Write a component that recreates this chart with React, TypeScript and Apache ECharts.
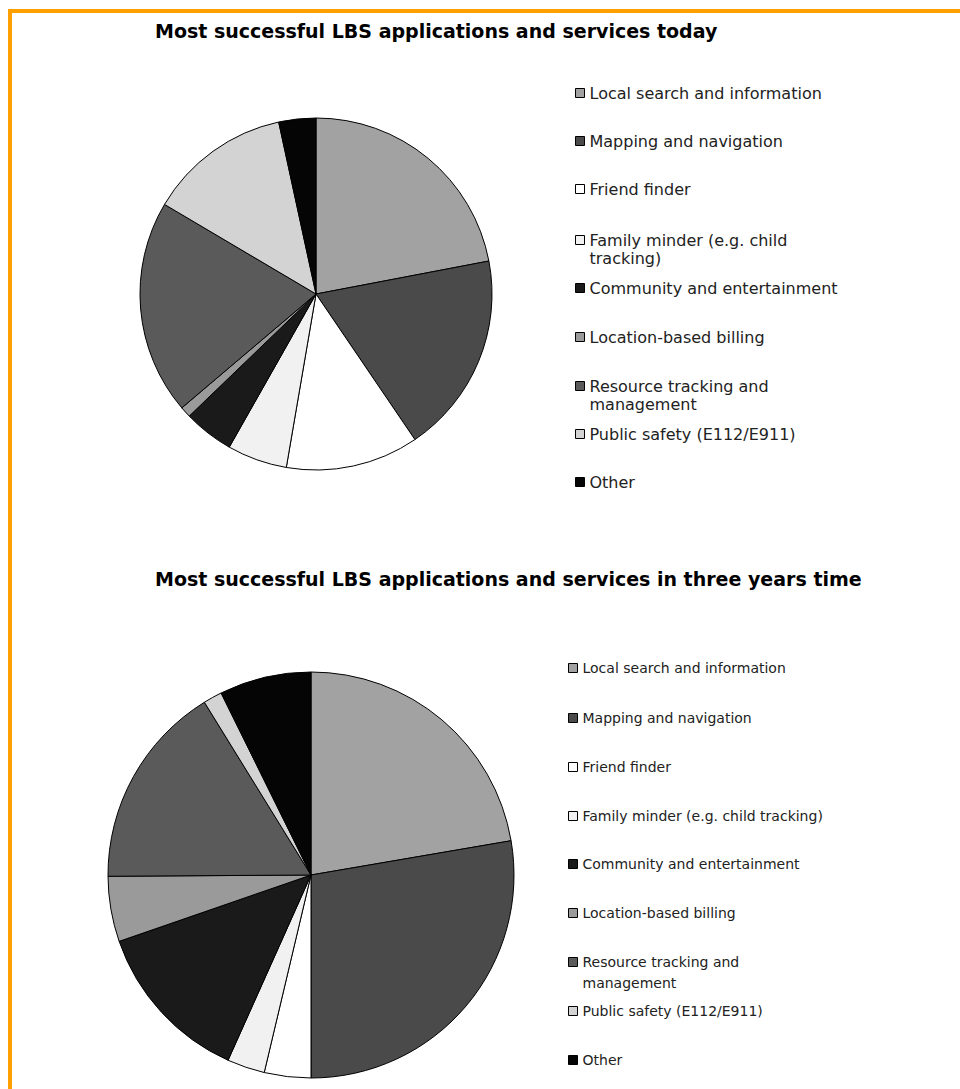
import React, { useEffect, useRef } from "react";
import * as echarts from "echarts";

const categories = [
  "Local search and information",
  "Mapping and navigation",
  "Friend finder",
  "Family minder (e.g. child tracking)",
  "Community and entertainment",
  "Location-based billing",
  "Resource tracking and management",
  "Public safety (E112/E911)",
  "Other",
];
const todayValues = [22, 18.5, 12.2, 5.5, 4.6, 1, 19.7, 13.1, 3.4];
const threeYearValues = [22.3, 27.7, 3.7, 3.0, 13.0, 5.2, 16.3, 1.5, 7.3];
const sliceColors = ["#a2a2a2", "#4a4a4a", "#ffffff", "#f1f1f1", "#1a1a1a", "#9a9a9a", "#5a5a5a", "#d3d3d3", "#050505"];

const titleToday = "Most successful LBS applications and services today";
const titleFuture = "Most successful LBS applications and services in three years time";

// legend label wrapping per chart
const wrapToday: Record<string, string[]> = {
  "Family minder (e.g. child tracking)": ["Family minder (e.g. child", "tracking)"],
  "Resource tracking and management": ["Resource tracking and", "management"],
};
const wrapFuture: Record<string, string[]> = {
  "Resource tracking and management": ["Resource tracking and", "management"],
};
const legendYToday = [93, 141, 189, 240, 288, 337, 386, 434, 482];
const legendYFuture = [668, 718, 767, 816, 864, 913, 962, 1011, 1060];

const FONT = "DejaVu Sans, Liberation Sans, Arial, sans-serif";

function buildLegends(ys: number[], left: number, wrap: Record<string, string[]>, lh: number, fs: number) {
  return categories.map((name, i) => {
    const lines = wrap[name];
    const multi = !!lines;
    return {
      show: true,
      orient: "vertical",
      left,
      top: multi ? ys[i] - 1.5 * lh : ys[i] - lh / 2,
      padding: 0,
      data: [name],
      icon: "rect",
      itemWidth: 9,
      itemHeight: 9,
      selectedMode: false,
      itemStyle: { borderColor: "#000", borderWidth: 1 },
      formatter: () => (multi ? "\n" + lines.join("\n") : name),
      textStyle: {
        fontFamily: FONT,
        fontSize: fs,
        color: "#222",
        lineHeight: lh,
      },
    };
  });
}

export default function App() {
  const ref = useRef<HTMLDivElement>(null);
  useEffect(() => {
    if (!ref.current) return;
    const chart = echarts.init(ref.current, undefined, { renderer: "svg" });
    const pieCommon = {
      type: "pie",
      startAngle: 90,
      clockwise: true,
      label: { show: false },
      labelLine: { show: false },
      emphasis: { disabled: true },
      itemStyle: { borderColor: "#000", borderWidth: 1 },
    };
    const titleStyle = { fontFamily: FONT, fontWeight: "bold", fontSize: 19, color: "#000" };
    chart.setOption({
      animation: false,
      backgroundColor: "#fff",
      color: sliceColors,
      title: [
        { text: titleToday, left: 155, top: 21, padding: 0, textStyle: titleStyle },
        { text: titleFuture, left: 155, top: 569, padding: 0, textStyle: titleStyle },
      ],
      legend: [
        ...buildLegends(legendYToday, 575, wrapToday, 18, 16),
        ...buildLegends(legendYFuture, 568, wrapFuture, 21, 14),
      ],
      graphic: [
        { type: "rect", shape: { x: 8, y: 9, width: 952, height: 4 }, style: { fill: "#ffa000" } },
        { type: "rect", shape: { x: 8, y: 9, width: 4, height: 1080 }, style: { fill: "#ffa000" } },
      ],
      series: [
        {
          ...pieCommon,
          name: "today",
          center: [316, 294],
          radius: 176,
          data: categories.map((n, i) => ({ name: n, value: todayValues[i] })),
        },
        {
          ...pieCommon,
          name: "three years",
          center: [311, 875],
          radius: 203,
          data: categories.map((n, i) => ({ name: n, value: threeYearValues[i] })),
        },
      ],
    });
    return () => chart.dispose();
  }, []);
  return (
    <div
      ref={ref}
      style={{ position: "absolute", left: 0, top: 0, width: 960, height: 1089 }}
    />
  );
}
